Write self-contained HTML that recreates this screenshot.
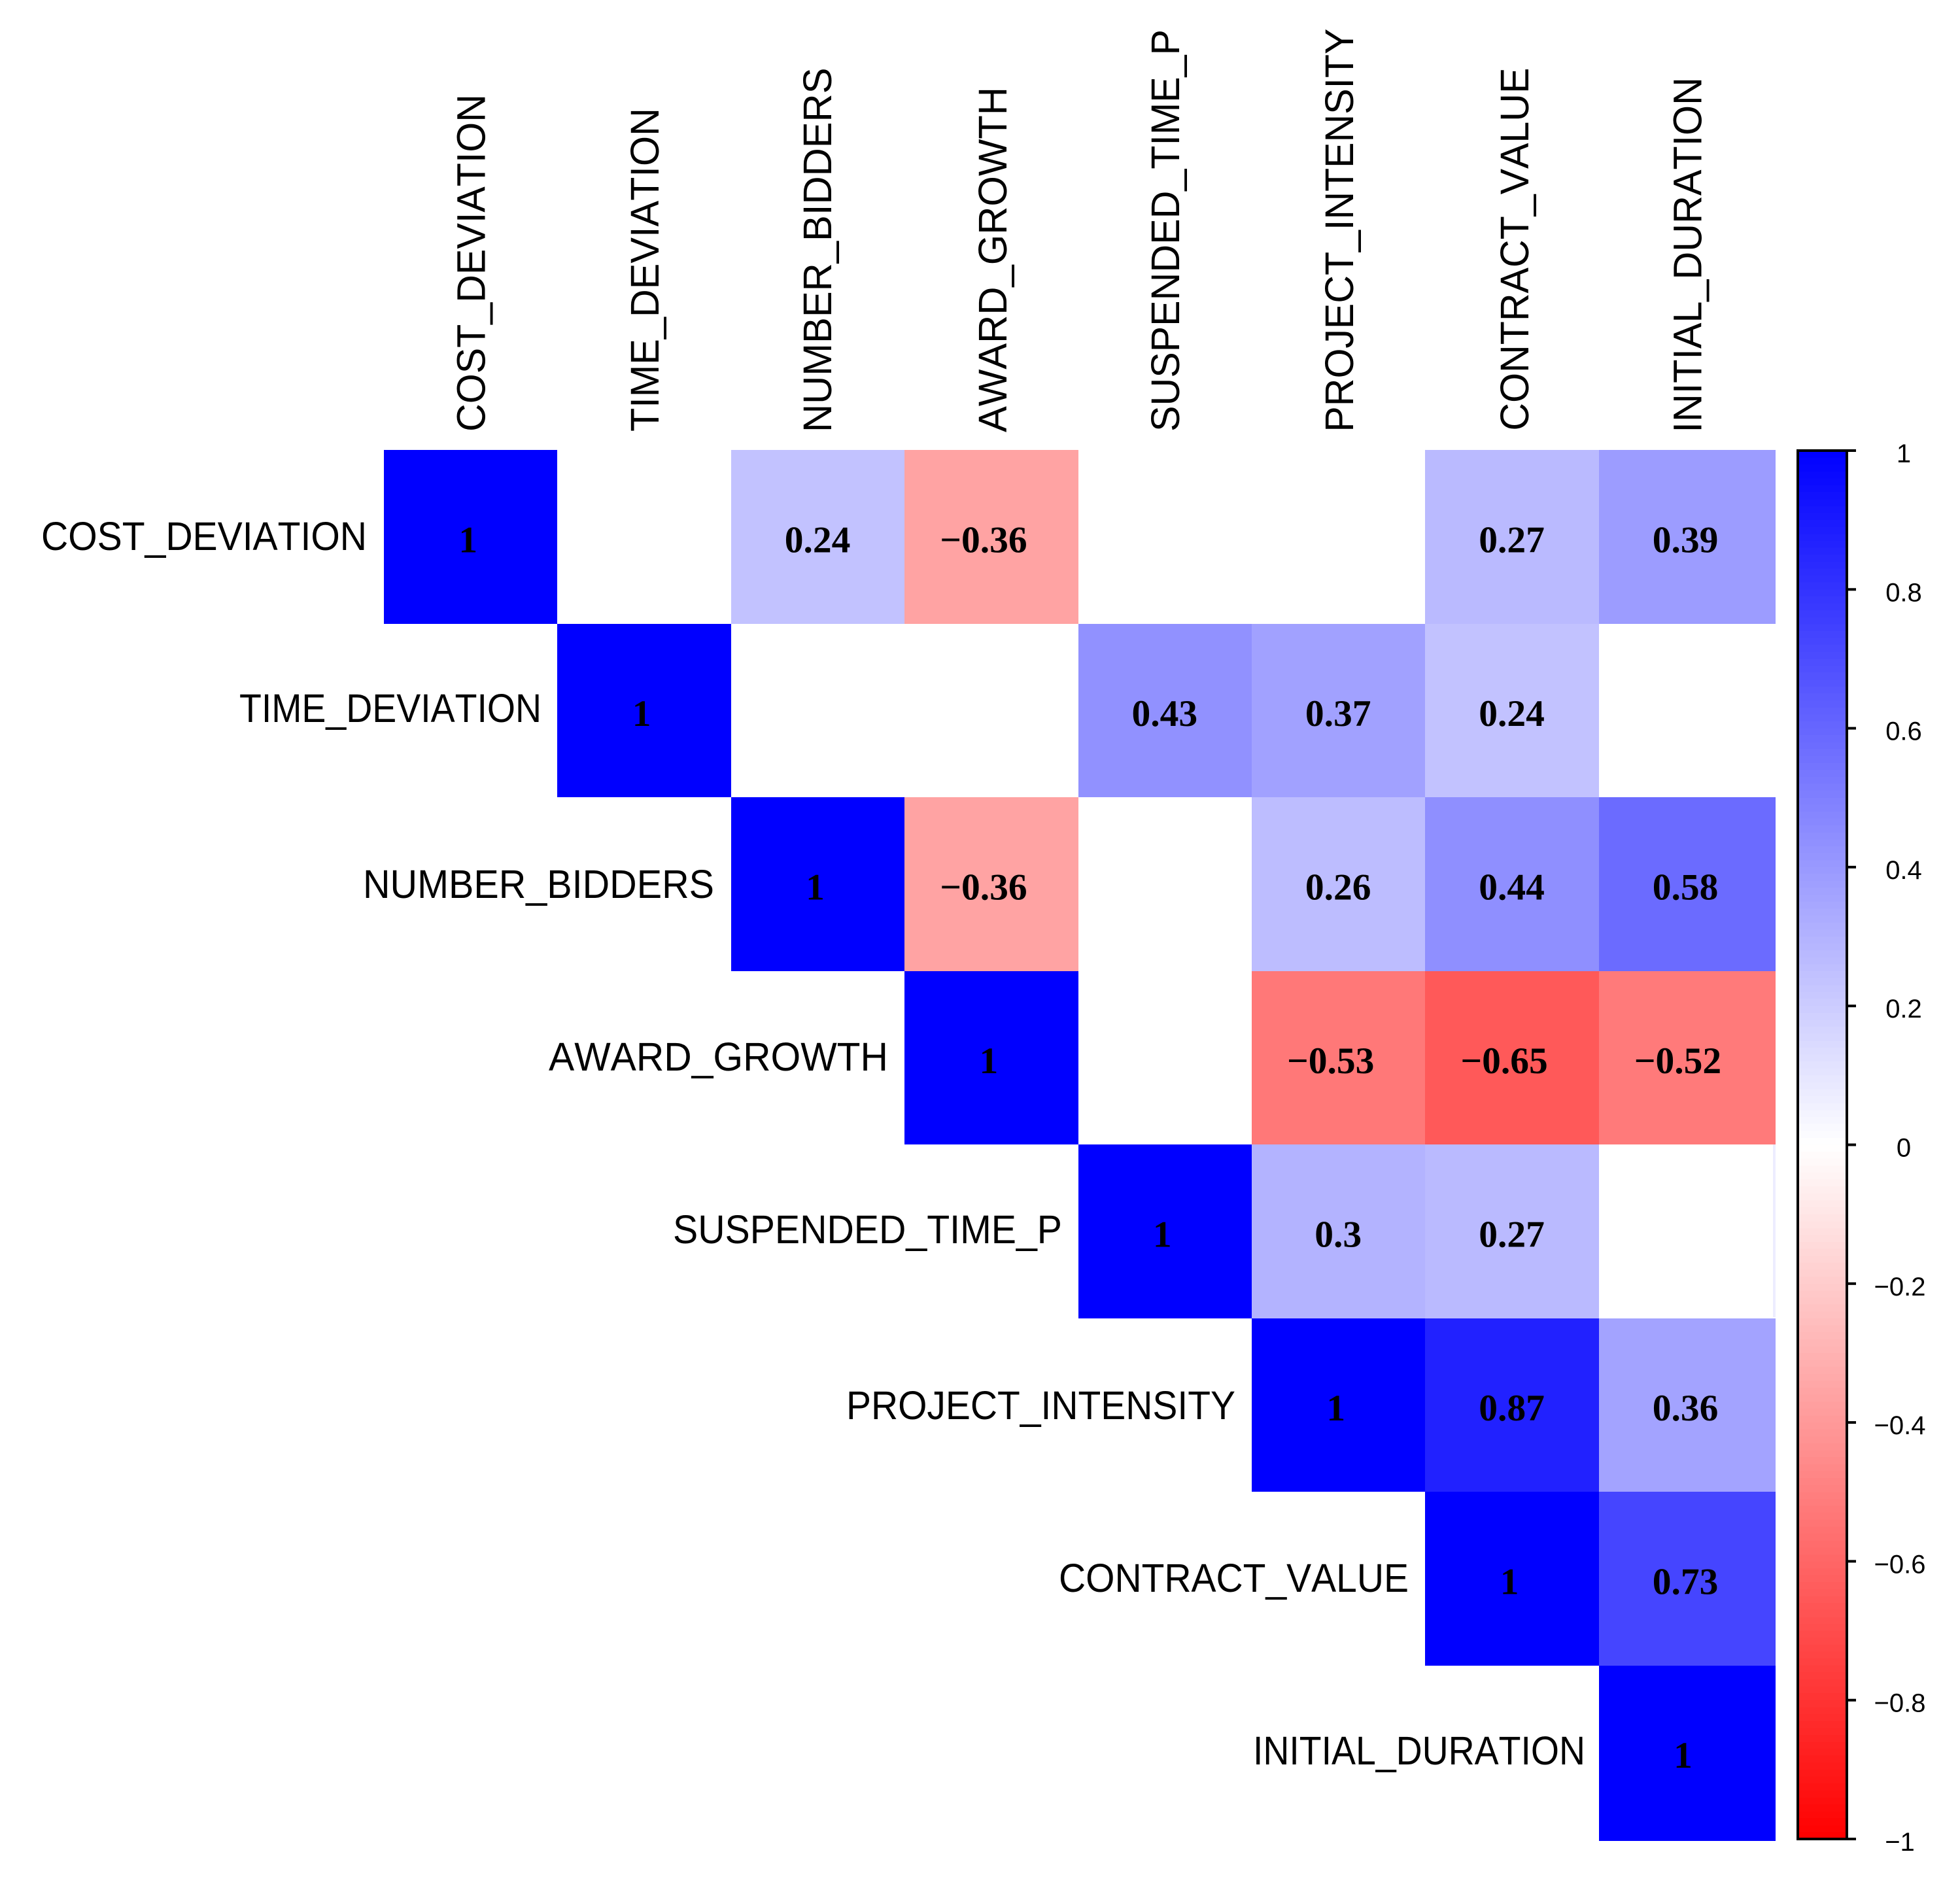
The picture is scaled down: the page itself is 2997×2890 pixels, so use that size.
<!DOCTYPE html>
<html lang="en">
<head>
<meta charset="utf-8">
<title>Correlation matrix</title>
<style>
html,body{margin:0;padding:0;background:#fff;width:2997px;height:2890px;overflow:hidden}
svg{display:block}
.axis-label{font-family:"Liberation Sans",sans-serif;font-size:61px;fill:#000;font-kerning:none}
.cell-value{font-family:"Liberation Serif",serif;font-weight:700;font-size:57.5px;fill:#000;text-anchor:middle}
.tick-label{font-family:"Liberation Sans",sans-serif;font-size:40px;fill:#000;text-anchor:middle}
</style>
</head>
<body>
<svg id="chart" xmlns="http://www.w3.org/2000/svg" width="2997" height="2890" viewBox="0 0 2997 2890">
  <rect x="0" y="0" width="2997" height="2890" fill="#ffffff"/>
  <g id="cells" shape-rendering="crispEdges"></g>
  <rect x="2711" y="1750" width="4" height="264" fill="#ededff" shape-rendering="crispEdges"/>
  <g id="values"></g>
  <g id="rowLabels">
    <text class="axis-label" x="63" y="841" textLength="498" lengthAdjust="spacingAndGlyphs">COST_DEVIATION</text>
    <text class="axis-label" x="366" y="1104" textLength="462" lengthAdjust="spacingAndGlyphs">TIME_DEVIATION</text>
    <text class="axis-label" x="555" y="1373" textLength="537" lengthAdjust="spacingAndGlyphs">NUMBER_BIDDERS</text>
    <text class="axis-label" x="839" y="1637" textLength="519" lengthAdjust="spacingAndGlyphs">AWARD_GROWTH</text>
    <text class="axis-label" x="1029" y="1901" textLength="595" lengthAdjust="spacingAndGlyphs">SUSPENDED_TIME_P</text>
    <text class="axis-label" x="1294" y="2170" textLength="595" lengthAdjust="spacingAndGlyphs">PROJECT_INTENSITY</text>
    <text class="axis-label" x="1619" y="2434" textLength="535" lengthAdjust="spacingAndGlyphs">CONTRACT_VALUE</text>
    <text class="axis-label" x="1916" y="2698" textLength="508" lengthAdjust="spacingAndGlyphs">INITIAL_DURATION</text>
  </g>
  <g id="colLabels">
    <text class="axis-label" transform="translate(741.5,660) rotate(-90)" textLength="516" lengthAdjust="spacingAndGlyphs">COST_DEVIATION</text>
    <text class="axis-label" transform="translate(1007,660) rotate(-90)" textLength="495" lengthAdjust="spacingAndGlyphs">TIME_DEVIATION</text>
    <text class="axis-label" transform="translate(1271,661) rotate(-90)" textLength="557.5" lengthAdjust="spacingAndGlyphs">NUMBER_BIDDERS</text>
    <text class="axis-label" transform="translate(1539,661) rotate(-90)" textLength="528" lengthAdjust="spacingAndGlyphs">AWARD_GROWTH</text>
    <text class="axis-label" transform="translate(1803,660) rotate(-90)" textLength="615" lengthAdjust="spacingAndGlyphs">SUSPENDED_TIME_P</text>
    <text class="axis-label" transform="translate(2069,660.6) rotate(-90)" textLength="617" lengthAdjust="spacingAndGlyphs">PROJECT_INTENSITY</text>
    <text class="axis-label" transform="translate(2337,658.6) rotate(-90)" textLength="555" lengthAdjust="spacingAndGlyphs">CONTRACT_VALUE</text>
    <text class="axis-label" transform="translate(2601.5,661.6) rotate(-90)" textLength="543.6" lengthAdjust="spacingAndGlyphs">INITIAL_DURATION</text>
  </g>
  <g id="colorbar" shape-rendering="crispEdges"></g>
  <g id="colorbarTicks"></g>
</svg>
<script>
const rowCostDeviation = [1,null,0.24,-0.36,null,null,0.27,0.39];
const rowTimeDeviation = [null,1,null,null,0.43,0.37,0.24,null];
const rowNumberBidders = [null,null,1,-0.36,null,0.26,0.44,0.58];
const rowAwardGrowth = [null,null,null,1,null,-0.53,-0.65,-0.52];
const rowSuspendedTime = [null,null,null,null,1,0.3,0.27,null];
const rowProjectIntensity = [null,null,null,null,null,1,0.87,0.36];
const rowContractValue = [null,null,null,null,null,null,1,0.73];
const rowInitialDuration = [null,null,null,null,null,null,null,1];
const matrixRows = [rowCostDeviation,rowTimeDeviation,rowNumberBidders,rowAwardGrowth,rowSuspendedTime,rowProjectIntensity,rowContractValue,rowInitialDuration];
const colorbarTickValues = [1,0.8,0.6,0.4,0.2,0,-0.2,-0.4,-0.6,-0.8,-1];

const NS = "http://www.w3.org/2000/svg";
const plot = {left:587,right:2715,top:688,bottom:2815,stepX:265.4,stepY:265.5,count:matrixRows.length};
const bar = {left:2747,right:2826,top:689,bottom:2812,border:4,tickEnd:2838,steps:200};

function xEdge(i){ return i >= plot.count ? plot.right : Math.round(plot.left + i * plot.stepX); }
function yEdge(i){ return i >= plot.count ? plot.bottom : Math.round(plot.top + i * plot.stepY); }
function xCenter(i){ return plot.left + (i + 0.5) * plot.stepX; }
function yCenter(i){ return plot.top + (i + 0.5) * plot.stepY; }
function colorbarY(v){ return bar.top + (1 - v) / 2 * (bar.bottom - bar.top); }
function corrColor(v){
  const c = Math.round(255 * (1 - Math.abs(v)));
  return v >= 0 ? "rgb(" + c + "," + c + ",255)" : "rgb(255," + c + "," + c + ")";
}
function fmt(v){ return (v < 0 ? "\u2212" : "") + String(Math.abs(v)); }
function make(tag, parent, attrs, text){
  const el = document.createElementNS(NS, tag);
  for (const k in attrs) el.setAttribute(k, attrs[k]);
  if (text !== undefined) el.textContent = text;
  parent.appendChild(el);
  return el;
}

const cellsG = document.getElementById("cells");
const valuesG = document.getElementById("values");
const barG = document.getElementById("colorbar");
const tickG = document.getElementById("colorbarTicks");

matrixRows.forEach(function(row, r){
  row.forEach(function(v, c){
    if (v === null) return;
    const x0 = xEdge(c), x1 = xEdge(c + 1), y0 = yEdge(r), y1 = yEdge(r + 1);
    const cell = make("rect", cellsG, {x:x0, y:y0, width:x1 - x0, height:y1 - y0, fill:corrColor(v)});
    
    
    const shift = v < 0 ? -12 : (v === 1 ? -4 : -0.5);
    const label = make("text", valuesG, {"class":"cell-value", x:xCenter(c) + shift, y:yCenter(r) + 23.5}, fmt(v));
    
    
  });
});

const stepH = (bar.bottom - bar.top) / bar.steps;
for (let s = 0; s < bar.steps; s++){
  const v = 1 - (s + 0.5) * 2 / bar.steps;
  const seg = make("rect", barG, {x:bar.left, y:bar.top + s * stepH, width:bar.right - bar.left, height:stepH + 1, fill:corrColor(v)});
  
  
}
const frame = make("rect", barG, {x:bar.left + bar.border / 2, y:bar.top, width:bar.right - bar.left - bar.border, height:bar.bottom - bar.top, fill:"none", stroke:"#000", "stroke-width":bar.border});



colorbarTickValues.forEach(function(v){
  const y = colorbarY(v);
  const tick = make("rect", tickG, {x:bar.right, y:y - 2, width:bar.tickEnd - bar.right, height:4, fill:"#000"});
  
  
  const label = make("text", tickG, {"class":"tick-label", x:v < 0 ? 2905 : 2911, y:y + 18}, fmt(v));
  
  
});
</script>
</body>
</html>
